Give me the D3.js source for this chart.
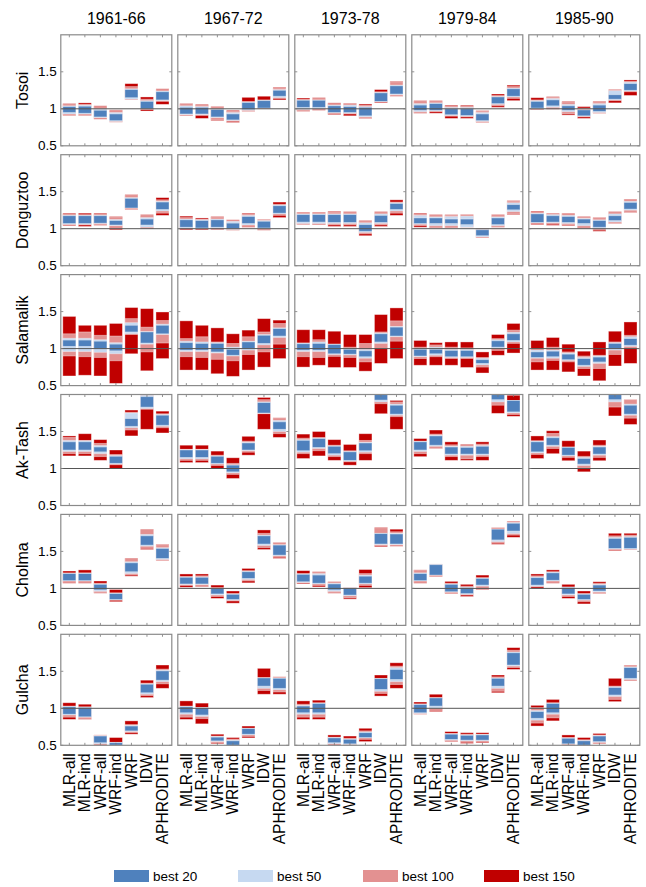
<!DOCTYPE html>
<html><head><meta charset="utf-8">
<script src="https://cdn.jsdelivr.net/npm/d3@7"></script>
<style>
html,body{margin:0;padding:0;background:#fff;}
text{font-family:"Liberation Sans",Arial,sans-serif;fill:#000;}
</style></head>
<body><svg id="c" width="646" height="887"></svg>
<script>
const periods = ["1961-66","1967-72","1973-78","1979-84","1985-90"];
const stations = ["Tosoi","Donguztoo","Salamalik","Ak-Tash","Cholma","Gulcha"];
const methods = ["MLR-all","MLR-ind","WRF-all","WRF-ind","WRF","IDW","APHRODITE"];
const seriesNames = ["best 150","best 100","best 50","best 20"];
const yTicks = [0.5, 1, 1.5];
// each entry: [lo150, hi150, lo100, hi100, lo50, hi50, lo20, hi20]
const tosoi = [
 [[0.91,1.07,0.92,1.06,0.93,1.04,0.95,1.03],[0.91,1.08,0.92,1.06,0.93,1.05,0.94,1.035],[0.86,1.04,0.87,1.03,0.88,1.0,0.89,0.98],[0.82,0.985,0.82,0.98,0.83,0.95,0.84,0.93],[1.12,1.34,1.12,1.30,1.13,1.27,1.15,1.26],[0.97,1.16,0.99,1.13,1.0,1.11,1.0,1.10],[1.06,1.27,1.10,1.26,1.11,1.24,1.12,1.23]],
 [[0.905,1.07,0.91,1.06,0.92,1.04,0.93,1.02],[0.87,1.06,0.91,1.05,0.92,1.03,0.93,1.02],[0.84,1.03,0.85,1.02,0.88,1.0,0.89,0.99],[0.815,0.98,0.83,0.97,0.84,0.95,0.85,0.93],[0.965,1.155,0.97,1.10,0.98,1.09,0.99,1.085],[1.0,1.17,1.0,1.12,1.01,1.115,1.01,1.11],[1.12,1.29,1.14,1.28,1.15,1.26,1.17,1.25]],
 [[0.965,1.145,0.97,1.125,0.99,1.12,1.02,1.115],[0.98,1.15,0.99,1.14,1.0,1.12,1.02,1.115],[0.92,1.08,0.93,1.07,0.95,1.05,0.95,1.04],[0.905,1.075,0.93,1.07,0.94,1.05,0.95,1.03],[0.87,1.065,0.88,1.05,0.89,1.03,0.905,1.02],[1.08,1.26,1.09,1.23,1.10,1.22,1.10,1.215],[1.17,1.37,1.17,1.36,1.19,1.32,1.20,1.31]],
 [[0.94,1.11,0.94,1.10,0.96,1.07,0.98,1.05],[0.94,1.11,0.96,1.10,0.97,1.08,0.98,1.07],[0.87,1.05,0.90,1.04,0.91,1.02,0.92,1.0],[0.87,1.05,0.89,1.04,0.90,1.02,0.91,1.0],[0.815,0.975,0.82,0.97,0.83,0.95,0.84,0.93],[1.02,1.2,1.04,1.18,1.06,1.165,1.07,1.16],[1.11,1.32,1.14,1.30,1.16,1.28,1.17,1.27]],
 [[0.985,1.15,0.99,1.12,1.0,1.11,1.01,1.10],[0.995,1.165,1.0,1.16,1.02,1.14,1.04,1.12],[0.915,1.1,0.93,1.09,0.96,1.06,0.98,1.04],[0.87,1.03,0.89,1.01,0.90,0.99,0.905,0.985],[0.94,1.1,0.94,1.09,0.95,1.07,0.965,1.05],[1.08,1.26,1.11,1.25,1.12,1.245,1.13,1.19],[1.18,1.39,1.23,1.37,1.24,1.36,1.25,1.34]]
];
const donguztoo = [
 [[1.04,1.21,1.05,1.20,1.06,1.18,1.07,1.175],[1.03,1.21,1.05,1.19,1.06,1.18,1.07,1.175],[1.045,1.21,1.05,1.20,1.07,1.18,1.075,1.175],[0.985,1.165,1.0,1.16,1.04,1.125,1.05,1.11],[1.26,1.46,1.27,1.45,1.28,1.42,1.28,1.41],[1.0,1.19,1.0,1.18,1.02,1.15,1.05,1.13],[1.18,1.42,1.21,1.39,1.24,1.37,1.26,1.36]],
 [[0.985,1.17,1.0,1.15,1.01,1.13,1.02,1.12],[0.985,1.145,1.0,1.13,1.0,1.12,1.01,1.11],[0.985,1.165,0.99,1.16,1.01,1.13,1.02,1.12],[0.98,1.12,0.98,1.11,0.99,1.10,1.0,1.075],[1.02,1.21,1.03,1.2,1.05,1.18,1.07,1.165],[0.98,1.125,0.98,1.12,1.0,1.11,1.01,1.10],[1.15,1.36,1.18,1.33,1.2,1.32,1.21,1.31]],
 [[1.055,1.225,1.055,1.22,1.07,1.20,1.09,1.19],[1.05,1.225,1.05,1.22,1.07,1.20,1.09,1.19],[1.03,1.235,1.05,1.225,1.07,1.2,1.085,1.19],[1.03,1.23,1.05,1.22,1.07,1.2,1.085,1.19],[0.905,1.11,0.93,1.10,0.95,1.08,0.965,1.055],[1.03,1.23,1.05,1.22,1.07,1.2,1.085,1.18],[1.18,1.39,1.21,1.36,1.24,1.35,1.26,1.34]],
 [[1.02,1.21,1.04,1.2,1.06,1.18,1.07,1.145],[1.01,1.19,1.01,1.18,1.04,1.16,1.07,1.145],[1.01,1.19,1.01,1.185,1.04,1.165,1.07,1.13],[1.02,1.19,1.02,1.18,1.02,1.17,1.055,1.13],[0.875,1.0,0.875,0.995,0.89,0.99,0.905,0.985],[1.02,1.19,1.02,1.18,1.04,1.16,1.055,1.145],[1.19,1.38,1.2,1.375,1.23,1.35,1.255,1.325]],
 [[1.055,1.235,1.07,1.22,1.08,1.21,1.085,1.2],[1.045,1.21,1.06,1.205,1.08,1.19,1.09,1.175],[1.04,1.21,1.05,1.205,1.07,1.18,1.085,1.165],[1.005,1.165,1.005,1.16,1.04,1.14,1.07,1.13],[0.965,1.15,0.98,1.14,1.0,1.12,1.02,1.11],[1.07,1.23,1.07,1.22,1.09,1.2,1.11,1.175],[1.22,1.40,1.23,1.395,1.25,1.37,1.265,1.355]]
];
const salamalik = [
 [[0.63,1.435,0.9,1.2,0.96,1.14,1.03,1.115],[0.64,1.315,0.89,1.225,0.96,1.14,1.03,1.115],[0.63,1.315,0.88,1.18,0.95,1.12,1.0,1.1],[0.53,1.34,0.835,1.17,0.93,1.08,0.97,1.06],[0.93,1.555,1.19,1.405,1.2,1.35,1.225,1.315],[0.70,1.54,0.955,1.29,1.06,1.23,1.075,1.225],[0.865,1.495,1.075,1.38,1.19,1.33,1.2,1.315]],
 [[0.71,1.375,0.89,1.135,0.96,1.10,0.98,1.08],[0.71,1.315,0.88,1.16,0.96,1.09,0.98,1.07],[0.66,1.28,0.855,1.09,0.94,1.08,0.955,1.07],[0.625,1.2,0.835,1.07,0.9,1.02,0.91,0.99],[0.71,1.25,0.92,1.16,0.98,1.1,1.0,1.09],[0.75,1.405,0.955,1.225,1.05,1.19,1.07,1.18],[0.865,1.385,1.06,1.34,1.15,1.28,1.17,1.27]],
 [[0.75,1.255,0.89,1.075,0.96,1.075,0.98,1.065],[0.775,1.255,0.88,1.12,0.96,1.09,0.98,1.07],[0.745,1.235,0.895,1.06,0.92,1.06,0.93,1.055],[0.745,1.19,0.88,1.02,0.915,1.0,0.925,0.99],[0.695,1.19,0.82,1.07,0.87,0.99,0.89,0.97],[0.80,1.46,1.0,1.225,1.07,1.21,1.09,1.2],[0.865,1.55,1.1,1.375,1.16,1.3,1.17,1.29]],
 [[0.775,1.11,0.865,1.02,0.89,1.0,0.9,0.99],[0.775,1.08,0.89,1.05,0.91,1.02,0.93,0.99],[0.775,1.09,0.865,1.02,0.88,0.99,0.89,0.975],[0.745,1.09,0.865,1.01,0.88,0.99,0.89,0.975],[0.67,0.955,0.75,0.88,0.78,0.87,0.8,0.85],[0.91,1.19,0.975,1.135,1.0,1.12,1.02,1.105],[0.94,1.34,1.07,1.25,1.09,1.22,1.11,1.2]],
 [[0.71,1.11,0.82,1.0,0.87,0.98,0.88,0.955],[0.71,1.15,0.84,1.02,0.87,0.98,0.89,0.965],[0.685,1.06,0.82,0.955,0.84,0.94,0.85,0.925],[0.63,0.965,0.73,0.9,0.76,0.88,0.775,0.865],[0.565,1.09,0.73,0.91,0.8,0.9,0.82,0.885],[0.765,1.235,0.92,1.09,0.98,1.08,1.0,1.07],[0.8,1.36,1.0,1.18,1.03,1.16,1.045,1.135]]
];
const akTash = [
 [[1.17,1.44,1.2,1.42,1.23,1.38,1.25,1.36],[1.17,1.47,1.2,1.38,1.23,1.375,1.25,1.36],[1.11,1.39,1.16,1.34,1.2,1.31,1.225,1.29],[1.0,1.25,1.05,1.19,1.06,1.175,1.07,1.165],[1.44,1.79,1.52,1.76,1.55,1.75,1.57,1.675],[1.53,2.0,1.8,1.99,1.81,1.99,1.83,1.97],[1.48,1.775,1.55,1.74,1.57,1.73,1.585,1.72]],
 [[1.08,1.315,1.11,1.26,1.13,1.255,1.15,1.25],[1.08,1.315,1.11,1.26,1.13,1.255,1.15,1.25],[1.0,1.235,1.04,1.18,1.06,1.17,1.07,1.165],[0.865,1.145,0.92,1.07,0.94,1.05,0.955,1.045],[1.18,1.435,1.22,1.37,1.24,1.355,1.25,1.345],[1.53,1.96,1.74,1.93,1.745,1.9,1.75,1.89],[1.42,1.685,1.47,1.68,1.5,1.65,1.53,1.63]],
 [[1.135,1.465,1.2,1.41,1.22,1.39,1.24,1.38],[1.17,1.5,1.24,1.42,1.27,1.41,1.285,1.405],[1.11,1.39,1.16,1.315,1.18,1.305,1.2,1.3],[1.045,1.325,1.09,1.24,1.1,1.23,1.11,1.225],[1.11,1.47,1.2,1.38,1.22,1.355,1.24,1.345],[1.74,2.05,1.875,2.05,1.9,2.05,1.925,2.05],[1.53,1.92,1.7,1.9,1.72,1.87,1.735,1.855]],
 [[1.16,1.405,1.2,1.37,1.23,1.365,1.25,1.36],[1.27,1.52,1.27,1.465,1.3,1.45,1.315,1.44],[1.11,1.36,1.16,1.32,1.18,1.3,1.195,1.29],[1.11,1.33,1.13,1.325,1.18,1.3,1.195,1.285],[1.11,1.36,1.16,1.33,1.18,1.31,1.195,1.3],[1.745,2.05,1.855,2.05,1.9,2.05,1.93,2.05],[1.705,1.99,1.73,1.92,1.75,1.92,1.765,1.92]],
 [[1.135,1.44,1.19,1.375,1.21,1.37,1.225,1.36],[1.2,1.51,1.27,1.475,1.3,1.43,1.315,1.415],[1.105,1.375,1.15,1.29,1.17,1.29,1.18,1.285],[0.955,1.235,1.01,1.165,1.04,1.15,1.06,1.135],[1.105,1.385,1.15,1.315,1.18,1.3,1.195,1.29],[1.71,2.05,1.83,2.05,1.9,2.05,1.93,2.05],[1.595,1.93,1.68,1.93,1.72,1.87,1.735,1.855]]
];
const cholma = [
 [[1.07,1.235,1.08,1.21,1.1,1.2,1.105,1.2],[1.07,1.25,1.08,1.21,1.1,1.205,1.105,1.2],[0.935,1.1,0.94,1.07,0.96,1.06,0.98,1.055],[0.82,0.985,0.84,0.94,0.845,0.935,0.85,0.93],[1.165,1.41,1.18,1.405,1.2,1.36,1.225,1.345],[1.525,1.8,1.54,1.8,1.57,1.73,1.585,1.71],[1.375,1.595,1.375,1.59,1.39,1.55,1.405,1.54]],
 [[1.015,1.195,1.04,1.16,1.05,1.155,1.06,1.15],[1.02,1.195,1.025,1.17,1.05,1.155,1.06,1.15],[0.865,1.045,0.89,1.01,0.91,1.005,0.925,1.0],[0.8,0.965,0.83,0.93,0.84,0.925,0.85,0.92],[1.075,1.27,1.1,1.24,1.12,1.23,1.135,1.225],[1.525,1.79,1.55,1.745,1.58,1.72,1.6,1.71],[1.405,1.62,1.42,1.62,1.44,1.59,1.45,1.585]],
 [[1.06,1.24,1.07,1.2,1.08,1.195,1.09,1.19],[1.02,1.225,1.04,1.225,1.06,1.2,1.07,1.18],[0.935,1.09,0.935,1.09,0.96,1.07,0.98,1.06],[0.855,1.01,0.87,1.01,0.9,1.01,0.91,1.0],[1.01,1.255,1.04,1.2,1.06,1.18,1.07,1.165],[1.56,1.825,1.57,1.82,1.59,1.745,1.6,1.74],[1.57,1.8,1.58,1.765,1.59,1.745,1.6,1.735]],
 [[1.07,1.25,1.08,1.25,1.1,1.21,1.105,1.2],[1.16,1.33,1.17,1.33,1.18,1.325,1.18,1.32],[0.93,1.095,0.94,1.07,0.95,1.06,0.955,1.055],[0.89,1.055,0.91,1.03,0.92,1.015,0.93,1.01],[0.985,1.18,1.0,1.145,1.03,1.14,1.045,1.135],[1.595,1.82,1.61,1.82,1.63,1.8,1.655,1.8],[1.69,1.91,1.72,1.91,1.74,1.89,1.775,1.88]],
 [[1.0,1.195,1.02,1.17,1.03,1.155,1.045,1.145],[1.07,1.25,1.08,1.225,1.1,1.22,1.11,1.21],[0.865,1.055,0.89,1.02,0.91,1.015,0.925,1.01],[0.79,0.965,0.82,0.93,0.84,0.925,0.85,0.92],[0.93,1.09,0.93,1.07,0.95,1.055,0.965,1.045],[1.51,1.745,1.525,1.71,1.53,1.69,1.54,1.675],[1.52,1.745,1.52,1.72,1.53,1.7,1.54,1.69]]
];
const gulcha = [
 [[0.85,1.075,0.88,1.03,0.91,1.025,0.92,1.02],[0.85,1.055,0.85,1.02,0.88,1.015,0.885,1.01],[0.48,0.64,0.51,0.64,0.52,0.63,0.535,0.625],[0.45,0.605,0.46,0.54,0.47,0.54,0.48,0.535],[0.65,0.83,0.67,0.78,0.685,0.77,0.695,0.76],[1.145,1.38,1.17,1.34,1.19,1.33,1.21,1.325],[1.27,1.585,1.33,1.53,1.36,1.515,1.38,1.505]],
 [[0.85,1.1,0.88,1.03,0.92,1.025,0.94,1.02],[0.79,1.07,0.86,1.01,0.89,1.01,0.91,1.005],[0.52,0.65,0.53,0.625,0.55,0.62,0.56,0.61],[0.47,0.605,0.48,0.585,0.49,0.57,0.5,0.56],[0.6,0.76,0.62,0.73,0.64,0.73,0.65,0.725],[1.19,1.54,1.24,1.415,1.27,1.41,1.3,1.41],[1.19,1.425,1.22,1.425,1.25,1.41,1.27,1.405]],
 [[0.85,1.1,0.88,1.055,0.92,1.04,0.94,1.03],[0.85,1.11,0.88,1.075,0.92,1.07,0.94,1.065],[0.48,0.64,0.51,0.61,0.52,0.605,0.535,0.6],[0.47,0.625,0.49,0.595,0.51,0.585,0.52,0.58],[0.55,0.73,0.58,0.695,0.6,0.68,0.605,0.67],[1.165,1.45,1.2,1.405,1.23,1.4,1.255,1.4],[1.27,1.615,1.32,1.57,1.36,1.55,1.39,1.525]],
 [[0.92,1.085,0.92,1.06,0.93,1.055,0.94,1.05],[0.955,1.19,0.97,1.145,1.0,1.14,1.03,1.14],[0.55,0.685,0.56,0.66,0.57,0.655,0.58,0.65],[0.525,0.67,0.54,0.65,0.56,0.64,0.57,0.635],[0.535,0.67,0.55,0.65,0.56,0.645,0.57,0.64],[1.21,1.45,1.23,1.425,1.27,1.41,1.3,1.405],[1.525,1.82,1.55,1.785,1.57,1.76,1.585,1.75]],
 [[0.76,1.04,0.8,1.01,0.84,0.97,0.865,0.955],[0.83,1.12,0.87,1.075,0.92,1.07,0.94,1.065],[0.47,0.64,0.51,0.605,0.515,0.6,0.52,0.595],[0.46,0.605,0.47,0.575,0.48,0.565,0.49,0.56],[0.52,0.66,0.52,0.64,0.54,0.63,0.55,0.625],[1.09,1.405,1.12,1.3,1.16,1.29,1.18,1.28],[1.37,1.585,1.37,1.585,1.39,1.56,1.405,1.55]]
];
const stationData = [tosoi, donguztoo, salamalik, akTash, cholma, gulcha];

const colors = {"best 150":"#c00000","best 100":"#e39191","best 50":"#c6d9f1","best 20":"#4f81bd"};
const legendOrder = ["best 20","best 50","best 100","best 150"];

const svg = d3.select("#c");
const panelW = 111, panelH = 111;
const left0 = 60.8, stepX = 117, top0 = 34.8, stepY = 119.9;
const frameColor = "#8a8a8a";

stations.forEach((st, r) => {
  const top = top0 + r*stepY;
  const y = d3.scaleLinear().domain([0.5, 2.0]).range([top+panelH, top]).clamp(true);
  svg.append("text").attr("transform", `translate(22,${top+panelH/2}) rotate(-90)`)
    .attr("text-anchor","middle").attr("dominant-baseline","central")
    .style("font-size","16px").text(st);
  periods.forEach((p, c) => {
    const left = left0 + c*stepX;
    const x = d3.scaleLinear().domain([0.45, 7.6]).range([left, left+panelW]);
    const g = svg.append("g");
    g.append("rect").attr("x",left).attr("y",top).attr("width",panelW).attr("height",panelH)
      .attr("fill","#fff");
    const data = stationData[r][c];
    const bw = 0.84;
    seriesNames.forEach((s, si) => {
      g.selectAll(null).data(data).enter().append("rect")
        .attr("x", (d,i) => x(i+1-bw/2))
        .attr("width", (d,i) => x(i+1+bw/2)-x(i+1-bw/2))
        .attr("y", d => y(d[si*2+1]))
        .attr("height", d => Math.max(0, y(d[si*2]) - y(d[si*2+1])))
        .attr("fill", colors[s])
        .attr("stroke","#ffffff").attr("stroke-opacity",0.45).attr("stroke-width",0.8);
    });
    g.append("line").attr("x1",left).attr("x2",left+panelW).attr("y1",y(1)).attr("y2",y(1))
      .attr("stroke","#555").attr("stroke-width",1);
    methods.forEach((m,i) => {
      const tx = x(i+1);
      g.append("line").attr("x1",tx).attr("x2",tx).attr("y1",top).attr("y2",top+2.5).attr("stroke","#777").attr("stroke-width",0.8);
      g.append("line").attr("x1",tx).attr("x2",tx).attr("y1",top+panelH).attr("y2",top+panelH-2.5).attr("stroke","#777").attr("stroke-width",0.8);
    });
    yTicks.forEach(v => {
      g.append("line").attr("x1",left).attr("x2",left+2.5).attr("y1",y(v)).attr("y2",y(v)).attr("stroke","#777").attr("stroke-width",0.8);
      g.append("line").attr("x1",left+panelW).attr("x2",left+panelW-2.5).attr("y1",y(v)).attr("y2",y(v)).attr("stroke","#777").attr("stroke-width",0.8);
    });
    g.append("rect").attr("x",left).attr("y",top).attr("width",panelW).attr("height",panelH)
      .attr("fill","none").attr("stroke",frameColor).attr("stroke-width",1.2);
    if (c === 0) {
      yTicks.forEach(v => {
        svg.append("text").attr("x", left-4).attr("y", y(v)).attr("text-anchor","end")
          .attr("dominant-baseline","central").style("font-size","13.5px").text(v);
      });
    }
    if (r === 0) {
      svg.append("text").attr("x", left+panelW/2).attr("y", 24).attr("text-anchor","middle")
        .style("font-size","16px").text(p);
    }
    if (r === stations.length-1) {
      methods.forEach((m,i) => {
        svg.append("text").attr("transform", `translate(${x(i+1)},${top+panelH+8}) rotate(-90)`)
          .attr("text-anchor","end").attr("dy","0.35em").style("font-size","15.6px").text(m);
      });
    }
  });
});

const legendX = [114, 238, 363, 484];
legendOrder.forEach((s, i) => {
  svg.append("rect").attr("x", legendX[i]).attr("y", 870).attr("width", 35).attr("height", 12)
    .attr("fill", colors[s]);
  svg.append("text").attr("x", legendX[i]+39).attr("y", 881).style("font-size","13.5px").text(s);
});
</script></body></html>
